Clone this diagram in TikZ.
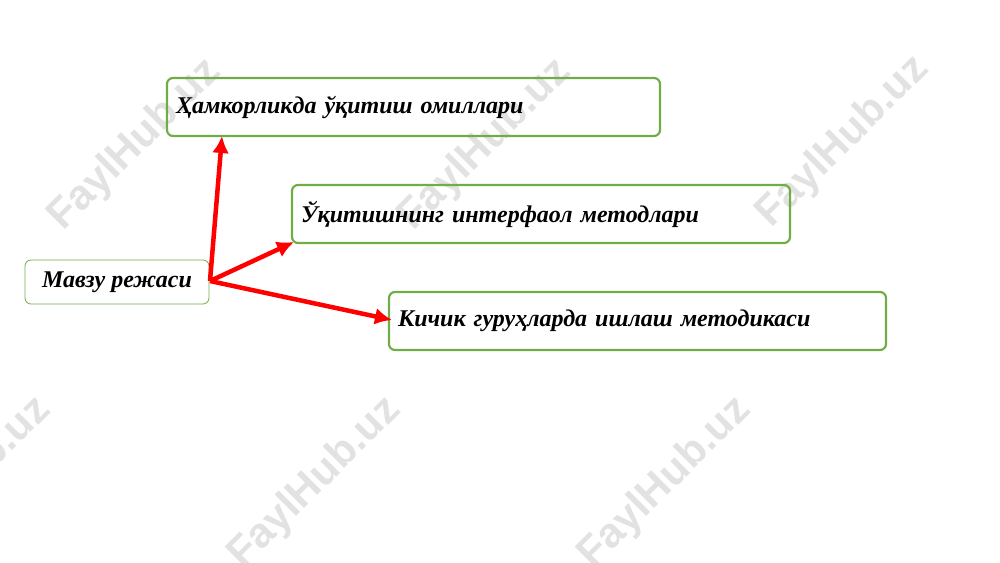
\documentclass[tikz,border=0pt]{standalone}
\usepackage{fontspec}
\setmainfont{Liberation Serif}
\newfontfamily\markfont{Liberation Sans}
\usetikzlibrary{arrows.meta}
\definecolor{boxgreen}{RGB}{112,173,71}
\definecolor{markgray}{RGB}{226,226,226}
\definecolor{arrowred}{RGB}{255,0,0}

\tikzset{
  topicbox/.style={draw=boxgreen, line width=2.2pt, rounded corners=6pt,
    minimum height=58pt, inner xsep=9pt, align=left,
    font=\fontsize{24}{28}\selectfont\bfseries\itshape},
  planbox/.style={draw=boxgreen, line width=0.8pt, rounded corners=6pt,
    minimum width=184pt, minimum height=44pt,
    font=\fontsize{24}{28}\selectfont\bfseries\itshape},
  markstyle/.style={text=markgray, rotate=45,
    font=\markfont\fontsize{42}{42}\selectfont\bfseries},
  redarrow/.style={draw=arrowred, line width=4.5pt,
    -{Latex[length=17pt,width=17pt]}}
}

\begin{document}
\begin{tikzpicture}[x=1pt, y=-1pt]
\useasboundingbox (0,0) rectangle (1000,562);

% watermarks
\begin{scope}
\clip (0,0) rectangle (1000,562);
\foreach \mx/\my/\mname in {135/145/wa, 485/145/wb, 843/142/wc,
                            -35/483/wd, 315/483/we, 665/483/wf}
  \node[markstyle] (\mname) at (\mx,\my) {FaylHub.uz};
\end{scope}

% boxes
\node[topicbox, minimum width=493pt, text width=475pt] (omil) at (413.5,107) {Ҳамкорликда ўқитиш омиллари};
\node[topicbox, minimum width=498pt, text width=480pt] (metod) at (541,214) {Ўқитишнинг интерфаол методлари};
\node[topicbox, minimum width=497pt, text width=479pt] (guruh) at (637.5,321) {Кичик гуруҳларда ишлаш методикаси};
\node[planbox] (reja) at (117,282) {Мавзу режаси};

% arrows
\coordinate (start) at (210,281);
\coordinate (omilend) at (222,136);
\coordinate (metodend) at (294,242);
\coordinate (guruhend) at (392,320);
\draw[redarrow] (start) -- (omilend);
\draw[redarrow] (start) -- (metodend);
\draw[redarrow] (start) -- (guruhend);

\end{tikzpicture}
\end{document}
